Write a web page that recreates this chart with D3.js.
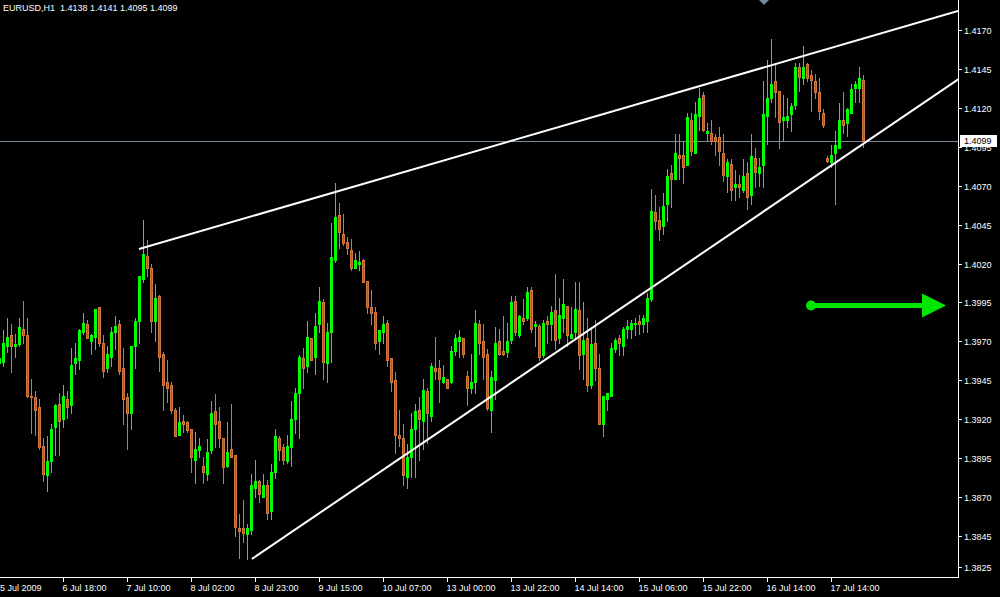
<!DOCTYPE html>
<html>
<head>
<meta charset="utf-8">
<script src="https://cdn.jsdelivr.net/npm/d3@7/dist/d3.min.js"></script>
<style>
  html, body { margin: 0; padding: 0; background: #000; }
  svg { display: block; }
  text { font-family: "Liberation Sans", Arial, sans-serif; font-size: 9px; }
</style>
</head>
<body>
<svg id="chart" width="1000" height="597"></svg>
<script>
// ---------- DATA (EURUSD H1, one value per hourly bar, left to right) ----------
const symbolTitle = "EURUSD,H1  1.4138 1.4141 1.4095 1.4099";

const open = [1.3956,
  1.3957,1.3967,1.3974,1.3967,1.3968,1.3978,1.3974,1.3935,1.3934,1.3928,
  1.3903,1.3884,1.3893,1.3915,1.3930,1.3920,1.3933,1.3929,1.3956,1.3958,
  1.3976,1.3981,1.3970,1.3973,1.3992,1.3969,1.3953,1.3960,1.3976,1.3981,
  1.3953,1.3934,1.3924,1.3967,1.3983,1.4010,1.4025,1.4017,1.3983,1.3999,
  1.3962,1.3944,1.3942,1.3926,1.3910,1.3919,1.3918,1.3914,1.3894,1.3900,
  1.3890,1.3885,1.3900,1.3925,1.3919,1.3908,1.3890,1.3901,1.3897,1.3850,
  1.3850,1.3846,1.3849,1.3876,1.3880,1.3870,1.3878,1.3861,1.3886,1.3908,
  1.3902,1.3893,1.3902,1.3920,1.3937,1.3959,1.3954,1.3972,1.3960,1.3981,
  1.3995,1.3956,1.3976,1.4022,1.4051,1.4039,1.4034,1.4029,1.4017,1.4020,
  1.4022,1.4009,1.3992,1.3989,1.3970,1.3976,1.3982,1.3959,1.3945,1.3910,
  1.3908,1.3883,1.3896,1.3914,1.3926,1.3919,1.3938,1.3922,1.3953,1.3953,
  1.3944,1.3946,1.3944,1.3964,1.3970,1.3972,1.3948,1.3940,1.3944,1.3981,
  1.3970,1.3962,1.3926,1.3945,1.3970,1.3964,1.3963,1.3971,1.3996,1.3974,
  1.3985,1.3985,1.4003,1.3980,1.3980,1.3961,1.3983,1.3981,1.3990,1.3972,
  1.3985,1.3993,1.3972,1.3976,1.3990,1.3962,1.3972,1.3942,1.3969,1.3953,
  1.3917,1.3933,1.3935,1.3965,1.3972,1.3967,1.3978,1.3978,1.3981,1.3983,
  1.3981,1.3983,1.3997,1.4053,1.4048,1.4044,1.4058,1.4078,1.4074,1.4090,
  1.4090,1.4083,1.4112,1.4091,1.4115,1.4128,1.4104,1.4104,1.4101,1.4101,
  1.4091,1.4076,1.4084,1.4069,1.4071,1.4067,1.4078,1.4064,1.4088,1.4078,
  1.4083,1.4115,1.4126,1.4137,1.4131,1.4112,1.4112,1.4116,1.4122,1.4146,
  1.4139,1.4148,1.4141,1.4137,1.4130,1.4117,1.4088,1.4085,1.4091,1.4094,
  1.4112,1.4110,1.4117,1.4133,1.4133,1.4138];

const high = [1.3960,
  1.3977,1.3985,1.3981,1.3975,1.3985,1.3996,1.3985,1.3946,1.3938,1.3933,
  1.3908,1.3909,1.3917,1.3930,1.3937,1.3942,1.3938,1.3966,1.3969,1.3978,
  1.3988,1.3984,1.3975,1.3991,1.3992,1.3974,1.3967,1.3979,1.3986,1.3984,
  1.3966,1.3937,1.3967,1.3985,1.4012,1.4048,1.4035,1.4020,1.4007,1.4000,
  1.3963,1.3958,1.3944,1.3927,1.3928,1.3923,1.3919,1.3914,1.3912,1.3908,
  1.3896,1.3907,1.3932,1.3936,1.3928,1.3908,1.3918,1.3930,1.3897,1.3859,
  1.3868,1.3853,1.3885,1.3894,1.3881,1.3885,1.3881,1.3891,1.3914,1.3909,
  1.3904,1.3910,1.3932,1.3940,1.3961,1.3966,1.3983,1.3972,1.3988,1.4005,
  1.3997,1.3982,1.4046,1.4072,1.4059,1.4052,1.4037,1.4036,1.4027,1.4028,
  1.4023,1.4009,1.4003,1.3992,1.3977,1.3986,1.3984,1.3959,1.3950,1.3926,
  1.3917,1.3904,1.3924,1.3930,1.3934,1.3946,1.3940,1.3956,1.3973,1.3958,
  1.3955,1.3946,1.3967,1.3975,1.3977,1.3972,1.3951,1.3962,1.3990,1.3984,
  1.3981,1.3965,1.3951,1.3979,1.3978,1.3986,1.3982,1.3999,1.3999,1.3987,
  1.3997,1.4005,1.4005,1.3983,1.3981,1.3984,1.3986,1.3993,1.4013,1.3998,
  1.4010,1.3993,1.3992,1.4008,1.4008,1.3995,1.3985,1.3979,1.3984,1.3962,
  1.3935,1.3937,1.3969,1.3972,1.3974,1.3979,1.3984,1.3984,1.3985,1.3987,
  1.3987,1.4001,1.4068,1.4064,1.4056,1.4065,1.4081,1.4083,1.4103,1.4103,
  1.4099,1.4117,1.4117,1.4124,1.4133,1.4130,1.4110,1.4112,1.4103,1.4108,
  1.4103,1.4087,1.4087,1.4080,1.4077,1.4087,1.4085,1.4103,1.4094,1.4088,
  1.4137,1.4151,1.4164,1.4149,1.4131,1.4128,1.4126,1.4123,1.4149,1.4149,
  1.4160,1.4149,1.4144,1.4142,1.4139,1.4119,1.4089,1.4096,1.4105,1.4123,
  1.4130,1.4120,1.4135,1.4137,1.4146,1.4141];

const low = [1.3954,
  1.3954,1.3963,1.3950,1.3960,1.3967,1.3969,1.3934,1.3911,1.3910,1.3901,
  1.3880,1.3874,1.3886,1.3897,1.3897,1.3915,1.3921,1.3924,1.3949,1.3952,
  1.3975,1.3972,1.3962,1.3965,1.3967,1.3947,1.3950,1.3954,1.3965,1.3949,
  1.3917,1.3901,1.3914,1.3953,1.3969,1.4008,1.4012,1.3976,1.3970,1.3951,
  1.3926,1.3931,1.3924,1.3909,1.3910,1.3912,1.3912,1.3886,1.3879,1.3896,
  1.3879,1.3881,1.3898,1.3902,1.3902,1.3879,1.3889,1.3896,1.3845,1.3831,
  1.3841,1.3830,1.3846,1.3870,1.3867,1.3870,1.3856,1.3856,1.3882,1.3894,
  1.3891,1.3892,1.3890,1.3911,1.3908,1.3940,1.3950,1.3958,1.3949,1.3976,
  1.3946,1.3944,1.3957,1.4021,1.4030,1.4032,1.4026,1.4016,1.4017,1.4016,
  1.4008,1.3988,1.3981,1.3965,1.3962,1.3969,1.3954,1.3938,1.3898,1.3903,
  1.3878,1.3876,1.3883,1.3883,1.3894,1.3901,1.3905,1.3919,1.3946,1.3931,
  1.3943,1.3940,1.3943,1.3961,1.3960,1.3960,1.3929,1.3937,1.3937,1.3962,
  1.3946,1.3926,1.3912,1.3933,1.3961,1.3961,1.3960,1.3969,1.3974,1.3973,
  1.3981,1.3984,1.3976,1.3967,1.3958,1.3960,1.3969,1.3971,1.3965,1.3969,
  1.3976,1.3967,1.3972,1.3972,1.3952,1.3946,1.3938,1.3940,1.3945,1.3917,
  1.3909,1.3926,1.3935,1.3963,1.3961,1.3961,1.3972,1.3972,1.3974,1.3975,
  1.3976,1.3976,1.3996,1.4042,1.4035,1.4039,1.4047,1.4056,1.4074,1.4074,
  1.4072,1.4083,1.4090,1.4091,1.4106,1.4105,1.4099,1.4097,1.4090,1.4083,
  1.4073,1.4066,1.4061,1.4061,1.4063,1.4066,1.4055,1.4058,1.4069,1.4070,
  1.4069,1.4097,1.4124,1.4114,1.4094,1.4099,1.4108,1.4105,1.4119,1.4131,
  1.4135,1.4137,1.4118,1.4126,1.4113,1.4108,1.4085,1.4082,1.4058,1.4094,
  1.4104,1.4102,1.4117,1.4124,1.4124,1.4095];

const close = [1.3959,
  1.3969,1.3973,1.3967,1.3968,1.3979,1.3974,1.3935,1.3934,1.3926,1.3902,
  1.3885,1.3893,1.3914,1.3929,1.3919,1.3935,1.3928,1.3955,1.3959,1.3977,
  1.3982,1.3972,1.3974,1.3991,1.3969,1.3951,1.3962,1.3976,1.3980,1.3951,
  1.3933,1.3924,1.3967,1.3983,1.4012,1.4026,1.4017,1.3983,1.3998,1.3960,
  1.3942,1.3940,1.3926,1.3909,1.3918,1.3917,1.3913,1.3896,1.3901,1.3903,
  1.3886,1.3899,1.3924,1.3917,1.3908,1.3889,1.3899,1.3896,1.3851,1.3848,
  1.3847,1.3850,1.3878,1.3880,1.3872,1.3878,1.3860,1.3886,1.3909,1.3900,
  1.3894,1.3903,1.3920,1.3937,1.3960,1.3953,1.3973,1.3958,1.3980,1.3996,
  1.3957,1.3976,1.4024,1.4050,1.4040,1.4033,1.4030,1.4017,1.4022,1.4021,
  1.4008,1.3992,1.3988,1.3969,1.3977,1.3981,1.3958,1.3944,1.3910,1.3908,
  1.3884,1.3896,1.3914,1.3925,1.3920,1.3939,1.3924,1.3954,1.3951,1.3946,
  1.3947,1.3940,1.3964,1.3972,1.3973,1.3962,1.3940,1.3944,1.3982,1.3969,
  1.3960,1.3927,1.3947,1.3969,1.3962,1.3962,1.3970,1.3995,1.3976,1.3986,
  1.3983,1.4002,1.3978,1.3981,1.3960,1.3982,1.3981,1.3989,1.3971,1.3987,
  1.3994,1.3974,1.3975,1.3991,1.3961,1.3971,1.3942,1.3968,1.3953,1.3917,
  1.3935,1.3937,1.3966,1.3971,1.3969,1.3978,1.3980,1.3982,1.3982,1.3981,
  1.3985,1.3998,1.4054,1.4047,1.4042,1.4057,1.4076,1.4074,1.4091,1.4088,
  1.4082,1.4114,1.4092,1.4116,1.4126,1.4106,1.4105,1.4099,1.4099,1.4092,
  1.4077,1.4085,1.4067,1.4071,1.4069,1.4076,1.4063,1.4089,1.4079,1.4082,
  1.4116,1.4126,1.4135,1.4130,1.4111,1.4114,1.4115,1.4121,1.4146,1.4140,
  1.4146,1.4139,1.4138,1.4130,1.4118,1.4109,1.4086,1.4090,1.4096,1.4112,
  1.4109,1.4119,1.4132,1.4135,1.4139,1.4099];

// price-axis tick labels
const priceTicks = [1.4170,1.4145,1.4120,1.4095,1.4070,1.4045,1.4020,1.3995,1.3970,1.3945,1.3920,1.3895,1.3870,1.3845,1.3825];
// time-axis labels: bar index and text
const timeTickBars = [0,16,32,48,64,80,96,112,128,144,160,176,192,208];
const timeTickLabels = ["5 Jul 2009","6 Jul 18:00","7 Jul 10:00","8 Jul 02:00","8 Jul 23:00","9 Jul 15:00",
  "10 Jul 07:00","13 Jul 00:00","13 Jul 22:00","14 Jul 14:00","15 Jul 06:00","15 Jul 22:00","16 Jul 14:00","17 Jul 14:00"];

// current bid
const bidPrice = 1.4099;
// trend lines: [bar, price] anchors
const upperTrend = [[35, 1.40293], [239.75, 1.41822]];
const lowerTrend = [[63.2, 1.38302], [239.8, 1.41383]];
// green arrow annotation: [bar, price] start -> tip
const arrowAnno = [[203, 1.3993], [236.75, 1.3993]];

// ---------- LAYOUT ----------
const plotRight = 958;
const plotBottom = 578;
const svg = d3.select("#chart");
svg.append("rect").attr("width", 1000).attr("height", 597).attr("fill", "#000");

const x = d3.scaleLinear().domain([0, 216]).range([-1, 863]);
const y = d3.scaleLinear().domain([1.3825, 1.4170]).range([567.1, 30]);

const UP = "#00ff00", DOWN_FILL = "#e2401e", DOWN_LINE = "#d2783c";

const plot = svg.append("g");
svg.append("clipPath").attr("id", "clip").append("rect")
  .attr("x", 0).attr("y", 0).attr("width", plotRight).attr("height", plotBottom);
plot.attr("clip-path", "url(#clip)");

// bid line
plot.append("line")
  .attr("x1", 0).attr("x2", plotRight)
  .attr("y1", Math.round(y(bidPrice)) + 0.5).attr("y2", Math.round(y(bidPrice)) + 0.5)
  .attr("stroke", "#778899").attr("stroke-width", 1);

// candles
const bars = d3.range(open.length).map(i => ({i, o: open[i], h: high[i], l: low[i], c: close[i]}));
const cg = plot.append("g");
bars.forEach(d => {
  const px = Math.round(x(d.i));
  const up = d.c >= d.o;
  const col = up ? UP : DOWN_LINE;
  const yh = Math.round(y(d.h)), yl = Math.round(y(d.l));
  const yt = Math.round(y(Math.max(d.o, d.c))), yb = Math.round(y(Math.min(d.o, d.c)));
  cg.append("line").attr("x1", px + 0.5).attr("x2", px + 0.5)
    .attr("y1", yh).attr("y2", yl + 1).attr("stroke", col).attr("stroke-width", 1);
  const bh = Math.max(1, yb - yt + 1);
  if (up) {
    cg.append("rect").attr("x", px - 1).attr("y", yt).attr("width", 3).attr("height", bh).attr("fill", UP);
  } else {
    cg.append("rect").attr("x", px - 1).attr("y", yt).attr("width", 3).attr("height", bh).attr("fill", DOWN_LINE);
    if (bh > 2) cg.append("rect").attr("x", px).attr("y", yt + 1).attr("width", 1).attr("height", bh - 2).attr("fill", DOWN_FILL);
  }
});

// trend lines (rays extended to right edge)
[upperTrend, lowerTrend].forEach(tl => {
  plot.append("line")
    .attr("x1", x(tl[0][0])).attr("y1", y(tl[0][1]))
    .attr("x2", x(tl[1][0])).attr("y2", y(tl[1][1]))
    .attr("stroke", "#ffffff").attr("stroke-width", 2);
});

// green arrow
const ax0 = x(arrowAnno[0][0]), ay0 = y(arrowAnno[0][1]);
const ax1 = x(arrowAnno[1][0]), ay1 = y(arrowAnno[1][1]);
const headLen = 24, headHalf = 12;
plot.append("line").attr("x1", ax0).attr("y1", ay0).attr("x2", ax1 - headLen + 1).attr("y2", ay1)
  .attr("stroke", "#00e600").attr("stroke-width", 5);
plot.append("circle").attr("cx", ax0).attr("cy", ay0).attr("r", 5).attr("fill", "#00e600");
plot.append("path")
  .attr("d", d3.line()([[ax1, ay1], [ax1 - headLen, ay1 - headHalf], [ax1 - headLen, ay1 + headHalf]]) + "Z")
  .attr("fill", "#00e600");

// chart shift marker
svg.append("path").attr("d", "M759,0L769,0L764,5Z").attr("fill", "#778899");

// ---------- AXES ----------
const axisCol = "#ffffff";
svg.append("line").attr("x1", 0).attr("x2", plotRight + 0.5).attr("y1", plotBottom - 0.5).attr("y2", plotBottom - 0.5)
  .attr("stroke", axisCol).attr("stroke-width", 1);
svg.append("line").attr("x1", plotRight + 0.5).attr("x2", plotRight + 0.5).attr("y1", 0).attr("y2", plotBottom)
  .attr("stroke", axisCol).attr("stroke-width", 1);

// price axis
const yAxisG = svg.append("g");
priceTicks.forEach(p => {
  const yy = Math.round(y(p)) + 0.5;
  yAxisG.append("line").attr("x1", plotRight).attr("x2", plotRight + 4).attr("y1", yy).attr("y2", yy)
    .attr("stroke", axisCol);
  yAxisG.append("text").attr("x", 964).attr("y", yy).attr("dy", "0.35em")
    .attr("fill", axisCol).text(p.toFixed(4));
});
// bid label box
const by = y(bidPrice);
yAxisG.append("rect").attr("x", 960).attr("y", Math.round(by) - 6).attr("width", 37).attr("height", 12).attr("fill", "#ffffff");
yAxisG.append("text").attr("x", 964).attr("y", by).attr("dy", "0.35em").attr("fill", "#000").text(bidPrice.toFixed(4));

// time axis
const xAxisG = svg.append("g");
timeTickBars.forEach((b, j) => {
  const xx = Math.round(x(b)) + 0.5;
  xAxisG.append("line").attr("x1", xx).attr("x2", xx).attr("y1", plotBottom).attr("y2", plotBottom + 4)
    .attr("stroke", axisCol);
  xAxisG.append("text").attr("x", Math.max(0, xx - 1)).attr("y", 591)
    .attr("fill", axisCol).text(timeTickLabels[j]);
});

// title
svg.append("text").attr("x", 3).attr("y", 11).attr("fill", "#ffffff")
  .style("white-space", "pre").text(symbolTitle);
</script>
</body>
</html>
